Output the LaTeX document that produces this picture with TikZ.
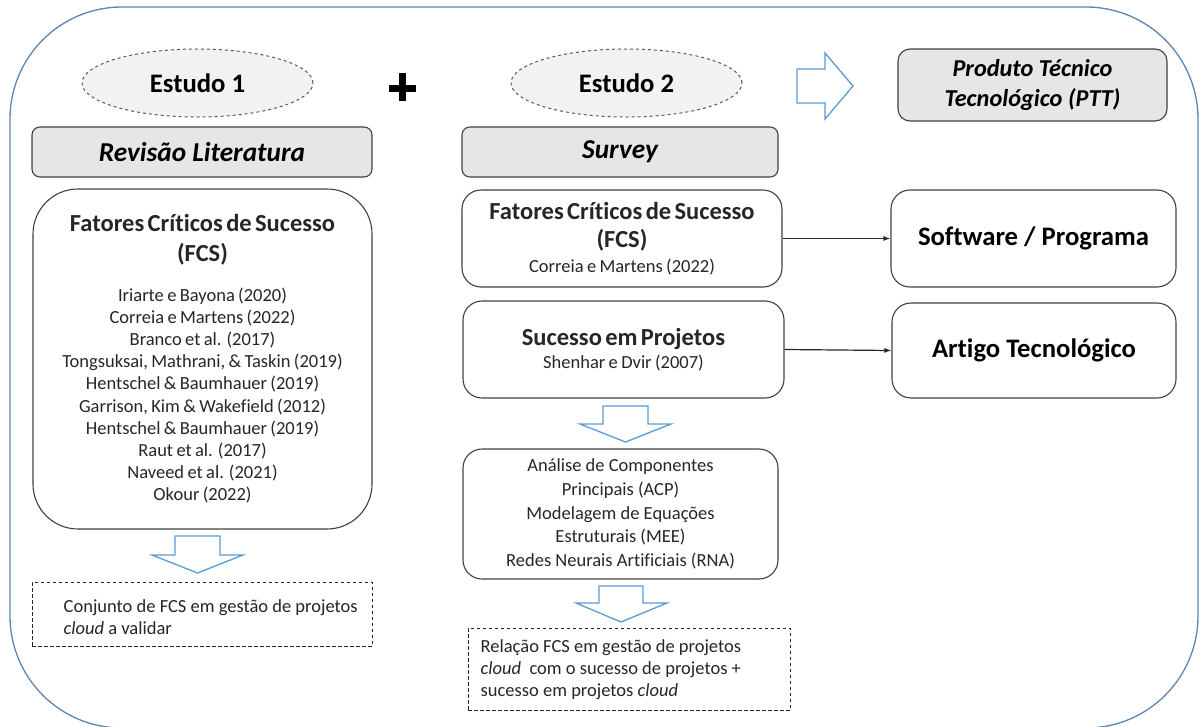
\documentclass[tikz,border=0pt]{standalone}
\usepackage{fontspec}
\setmainfont{Carlito}[Ligatures=NoCommon]
\usetikzlibrary{shapes.geometric,arrows.meta}
\newcommand\fsz[2]{\fontsize{#1}{#2}\selectfont}
\definecolor{framec}{HTML}{5A86B3}
\definecolor{arrowc}{HTML}{5B9BD5}
\definecolor{hdrfill}{HTML}{E7E6E6}
\definecolor{elfill}{HTML}{F2F2F2}
\definecolor{boxline}{HTML}{404040}
\definecolor{txt}{HTML}{262626}
\begin{document}
\begin{tikzpicture}[x=1pt,y=-1pt,
  frame/.style={draw=framec, line width=1.3pt, rounded corners=112pt},
  hdr/.style={draw=boxline, fill=hdrfill, rounded corners=8pt, line width=1.1pt, inner sep=0pt, align=center, text=black},
  rbox/.style={draw=boxline, rounded corners=19pt, line width=1.1pt, inner sep=0pt, align=center, text=txt},
  ell/.style={ellipse, draw=black!65, dashed, fill=elfill, line width=1pt, inner sep=0pt, text=black},
  dbox/.style={draw=black!85, dash pattern=on 3.5pt off 2.5pt, line width=1pt, inner sep=0pt},
  dtext/.style={anchor=west, align=left, inner sep=0pt, text=txt},
  barrow/.style={draw=arrowc, line width=1.3pt, fill=white, line join=miter},
  conn/.style={draw=black!85, line width=1.2pt, -{Latex[length=7pt,width=5pt]}},
  plusbar/.style={line width=7pt, draw=black}
]
\useasboundingbox (0,0) rectangle (1202,726);
\draw[frame] (10,7) rectangle (1198,728);

% study ellipses
\node[ell, minimum width=231pt, minimum height=68pt, font=\fsz{26.7}{32}\bfseries] (e1) at (197.5,83) {Estudo 1};
\node[ell, minimum width=231pt, minimum height=68pt, font=\fsz{26.7}{32}\bfseries] (e2) at (626.5,83) {Estudo 2};

% plus sign
\draw[plusbar] (389,88) -- (416,88);
\draw[plusbar] (402.5,73) -- (402.5,101);

% headers
\node[hdr, minimum width=340pt, minimum height=50pt, font=\fsz{27.3}{32}\bfseries\itshape] (rev) at (202,152) {Revisão Literatura};
\node[hdr, minimum width=316pt, minimum height=50pt, font=\fsz{27.3}{32}\bfseries\itshape] (surv) at (620,152) {Survey};
\node[hdr, minimum width=269pt, minimum height=72pt, rounded corners=12pt, font=\fsz{24.3}{30}\bfseries\itshape] (ptt) at (1032.5,85) {Produto Técnico\\Tecnológico (PTT)};

% right block arrow
\draw[barrow] (797,69) -- (825,69) -- (825,53) -- (853,86) -- (825,119) -- (825,103) -- (797,103) -- cycle;

% left big box
\node[rbox, rounded corners=45pt, text width=339pt, minimum height=340pt] (fcs1) at (202.5,359)
 {{\fsz{24.5}{30}\bfseries Fatores Críticos de Sucesso\\(FCS)\par}\vspace{17pt}%
  {\fsz{18.5}{22.2}Iriarte e Bayona (2020)\\Correia e Martens (2022)\\Branco et al. (2017)\\Tongsuksai, Mathrani, \& Taskin (2019)\\Hentschel \& Baumhauer (2019)\\Garrison, Kim \& Wakefield (2012)\\Hentschel \& Baumhauer (2019)\\Raut et al. (2017)\\Naveed et al. (2021)\\Okour (2022)\par}};

% left down arrow
\draw[barrow] (175,536) -- (220,536) -- (220,555) -- (243,555) -- (197.5,573) -- (152,555) -- (175,555) -- cycle;

% left dashed result
\node[dbox, minimum width=340pt, minimum height=64pt] (dl) at (202,614) {};
\node[dtext, font=\fsz{18.5}{21.5}] (dlt) at ([xshift=32pt,yshift=-3pt]dl.west) {Conjunto de FCS em gestão de projetos\\\textit{cloud} a validar};

% survey boxes
\node[rbox, text width=320pt, minimum height=97pt] (fcs2) at (622,238.5)
 {{\fsz{24.5}{28}\bfseries Fatores Críticos de Sucesso\\(FCS)\par}\vspace{2.5pt}%
  {\fsz{18.5}{22.2}Correia e Martens (2022)\par}};
\node[rbox, text width=321pt, minimum height=97pt] (suc) at (623.5,349.5)
 {{\fsz{24.5}{28}\bfseries Sucesso em Projetos\par}\vspace{0.5pt}%
  {\fsz{18.5}{22.2}Shenhar e Dvir (2007)\par}};

% mid down arrow
\draw[barrow] (603,406) -- (648,406) -- (648,424) -- (671,424) -- (625.5,442) -- (580,424) -- (603,424) -- cycle;

% methods
\node[rbox, minimum width=315pt, minimum height=130pt, font=\fsz{18.5}{23.7}] (meth) at (620.5,514)
 {Análise de Componentes\\Principais (ACP)\\Modelagem de Equações\\Estruturais (MEE)\\Redes Neurais Artificiais (RNA)};

% lower down arrow
\draw[barrow] (599,586) -- (643,586) -- (643,603) -- (667,603) -- (621,622) -- (576,603) -- (599,603) -- cycle;

% right dashed result
\node[dbox, minimum width=322pt, minimum height=82pt] (dr) at (629,669) {};
\node[dtext, font=\fsz{18.5}{22}] (drt) at ([xshift=13pt,yshift=-1pt]dr.west) {Relação FCS em gestão de projetos\\\textit{cloud}~ com o sucesso de projetos +\\sucesso em projetos \textit{cloud}};

% products
\node[rbox, text=black, minimum width=285pt, minimum height=97pt, font=\fsz{26.7}{32}\bfseries] (soft) at (1033.5,238.5) {Software / Programa};
\node[rbox, text=black, minimum width=284pt, minimum height=95pt, font=\fsz{26.7}{32}\bfseries] (art) at (1034,350.5) {Artigo Tecnológico};

% connectors
\draw[conn] (fcs2.east) -- (soft.west);
\draw[conn] (suc.east) -- (art.west);
\end{tikzpicture}
\end{document}
